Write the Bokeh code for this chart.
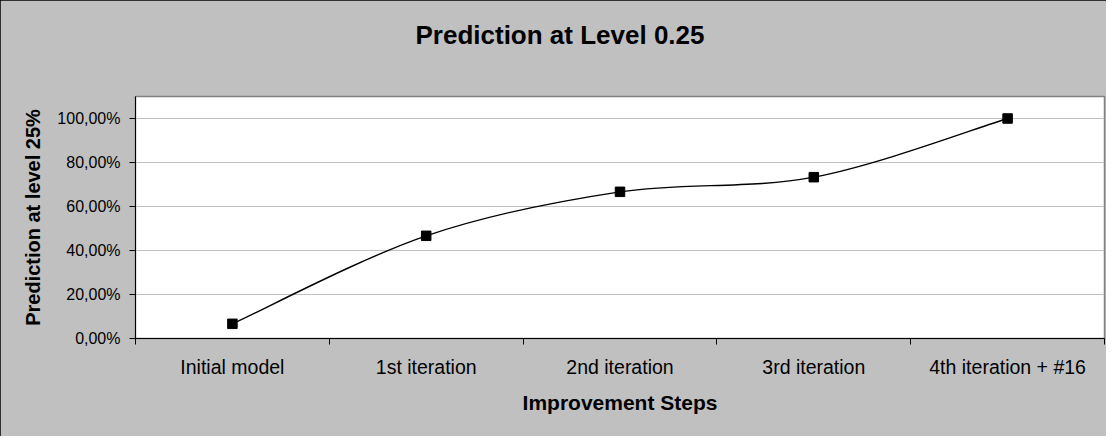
from bokeh.plotting import figure
from bokeh.models import FixedTicker, Range1d
from bokeh.embed import file_html
from bokeh.resources import INLINE

# ---- data ----
categories = ["Initial model", "1st iteration", "2nd iteration", "3rd iteration", "4th iteration + #16"]
values = [0.0667, 0.4667, 0.6667, 0.7333, 1.0]
y_ticks = [0.0, 0.2, 0.4, 0.6, 0.8, 1.0]
y_tick_labels = ["0,00%", "20,00%", "40,00%", "60,00%", "80,00%", "100,00%"]
title_text = "Prediction at Level 0.25"

FONT = "Liberation Sans"

n = len(categories)
xs = [i + 0.5 for i in range(n)]

p = figure(width=1106, height=436, output_backend="svg", toolbar_location=None,
           x_range=Range1d(0, n), y_range=Range1d(0, 1.1),
           min_border_left=135, min_border_right=2, min_border_top=96, min_border_bottom=98)
p.styles = {"outline": "1px solid black", "outline-offset": "-1px"}
p.border_fill_color = "#C0C0C0"
p.background_fill_color = "white"
p.outline_line_color = "#808080"
p.outline_line_width = 1.5

# title
p.title.text = title_text
p.title.text_font = FONT
p.title.text_font_size = "26px"
p.title.text_font_style = "bold"
p.title.text_color = "black"
p.title.align = "left"
p.title.offset = 280
p.title.standoff = 10
p.title.padding = dict(left=0, right=0, top=0, bottom=42)

# x axis: labels at category centres, ticks between categories
xa = p.xaxis[0]
xa.ticker = FixedTicker(ticks=xs, minor_ticks=list(range(n + 1)))
xa.major_label_overrides = {x: c for x, c in zip(xs, categories)}
xa.major_tick_out = 0
xa.major_tick_in = 0
xa.minor_tick_out = 6
xa.minor_tick_in = 0
xa.minor_tick_line_color = "black"
xa.axis_line_color = "black"
xa.major_label_text_font = FONT
xa.major_label_text_font_size = "19.5px"
xa.major_label_text_color = "black"
xa.major_label_standoff = 11
xa.axis_label = "Improvement Steps"
xa.axis_label_text_font = FONT
xa.axis_label_text_font_size = "21px"
xa.axis_label_text_font_style = "bold"
xa.axis_label_text_color = "black"
xa.axis_label_standoff = 10

# y axis
ya = p.yaxis[0]
ya.ticker = FixedTicker(ticks=y_ticks, minor_ticks=[])
ya.major_label_overrides = {t: l for t, l in zip(y_ticks, y_tick_labels)}
ya.major_tick_out = 6
ya.major_tick_in = 0
ya.major_tick_line_color = "black"
ya.axis_line_color = "black"
ya.major_label_text_font = FONT
ya.major_label_text_font_size = "16px"
ya.major_label_text_color = "black"
ya.major_label_standoff = 9
ya.axis_label = "Prediction at level 25%"
ya.axis_label_text_font = FONT
ya.axis_label_text_font_size = "20px"
ya.axis_label_text_font_style = "bold"
ya.axis_label_text_color = "black"
ya.axis_label_standoff = 10

p.xgrid.visible = False
p.ygrid.grid_line_color = "#C0C0C0"
p.ygrid.grid_line_width = 1

# smoothed line (Catmull-Rom style Bezier segments through the data points)
x0, y0, x1, y1, cx0, cy0, cx1, cy1 = [], [], [], [], [], [], [], []
for i in range(n - 1):
    pa = (xs[max(i - 1, 0)], values[max(i - 1, 0)])
    pb = (xs[i], values[i])
    pc = (xs[i + 1], values[i + 1])
    pd = (xs[min(i + 2, n - 1)], values[min(i + 2, n - 1)])
    x0.append(pb[0]); y0.append(pb[1])
    x1.append(pc[0]); y1.append(pc[1])
    cx0.append(pb[0] + (pc[0] - pa[0]) / 6); cy0.append(pb[1] + (pc[1] - pa[1]) / 6)
    cx1.append(pc[0] - (pd[0] - pb[0]) / 6); cy1.append(pc[1] - (pd[1] - pb[1]) / 6)
p.bezier(x0=x0, y0=y0, x1=x1, y1=y1, cx0=cx0, cy0=cy0, cx1=cx1, cy1=cy1,
         line_color="black", line_width=1.4)

p.scatter(xs, values, marker="square", size=9.5, fill_color="black", line_color="black")

open("out.html", "w").write(file_html(p, INLINE))
